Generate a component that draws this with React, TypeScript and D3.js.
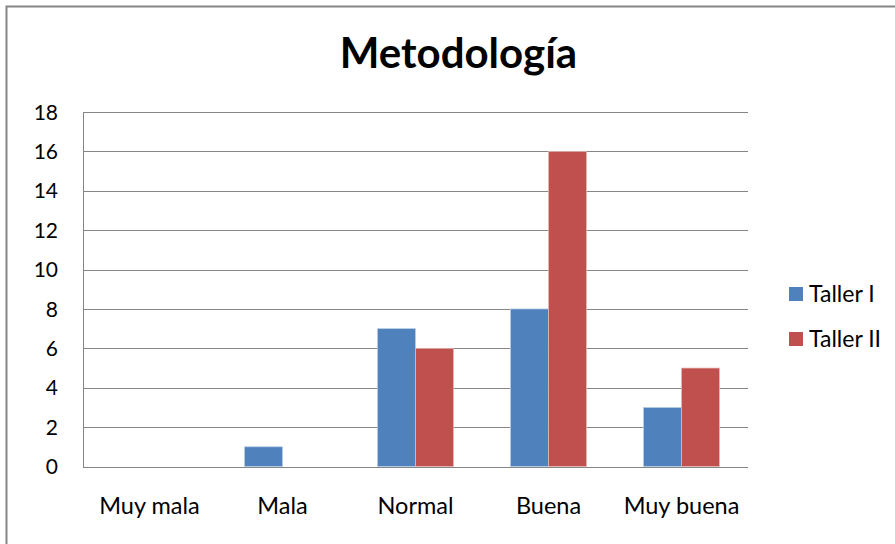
import React from 'react';
import * as d3 from 'd3';

const categories = ['Muy mala', 'Mala', 'Normal', 'Buena', 'Muy buena'];
const series = ['Taller I', 'Taller II'];
const tallerI = [0, 1, 7, 8, 3];
const tallerII = [0, 0, 6, 16, 5];
const yTicks = [0, 2, 4, 6, 8, 10, 12, 14, 16, 18];

const colors = ['#4F81BD', '#C0504D'];
const edges = ['#B9CDE5', '#E6B9B8'];
const gridColor = '#868686';
const font = 'Lato, Carlito, Calibri, sans-serif';

const width = 895;
const height = 544;
const margin = { top: 112, right: 147, bottom: 77.5, left: 83 };

const App: React.FC = () => {
  const values = [tallerI, tallerII];

  const x0 = d3.scaleBand<string>()
    .domain(categories)
    .range([margin.left, width - margin.right])
    .padding(0);

  const x1 = d3.scaleBand<string>()
    .domain(series)
    .range([0, x0.bandwidth()])
    .paddingInner(0)
    .paddingOuter(0.75);

  const y = d3.scaleLinear()
    .domain([0, 18])
    .range([height - margin.bottom, margin.top]);

  const left = margin.left;
  const right = width - margin.right;

  return (
    <div style={{ position: 'absolute', left: 0, top: 0 }}>
      <svg width={width} height={height} style={{ display: 'block', background: '#fff' }}>
        {/* chart frame, cut off by the picture on the right and bottom */}
        <rect x={6.5} y={6.5} width={width + 20} height={height + 20}
          fill="none" stroke={gridColor} strokeWidth={2} />

        <text x={458.5} y={68} textAnchor="middle" fontFamily={font}
          fontWeight="bold" fontSize={42} fill="#000">
          Metodología
        </text>

        {/* gridlines */}
        {yTicks.map(t => (
          <line key={t} x1={left} x2={right} y1={Math.round(y(t)) + 0.5} y2={Math.round(y(t)) + 0.5}
            stroke={gridColor} strokeWidth={1} />
        ))}
        <line x1={left + 0.5} x2={left + 0.5} y1={y(18)} y2={y(0) + 1}
          stroke={gridColor} strokeWidth={1} />

        {/* y tick labels */}
        {yTicks.map(t => (
          <text key={t} x={58} y={y(t)} dy="0.36em" textAnchor="end"
            fontFamily={font} fontSize={21} fill="#000">
            {t}
          </text>
        ))}

        {/* bars */}
        {categories.map((c, i) => (
          <g key={c} transform={`translate(${x0(c)},0)`}>
            {series.map((s, j) => {
              const v = values[j][i];
              if (v <= 0) return null;
              return (
                <rect key={s}
                  x={x1(s)!}
                  y={y(v)}
                  width={x1.bandwidth()}
                  height={y(0) - y(v)}
                  fill={colors[j]}
                  stroke={edges[j]}
                  strokeWidth={0.75} />
              );
            })}
          </g>
        ))}

        {/* category labels */}
        {categories.map(c => (
          <text key={c} x={x0(c)! + x0.bandwidth() / 2} y={514} textAnchor="middle"
            fontFamily={font} fontSize={23.5} fill="#000">
            {c}
          </text>
        ))}

        {/* legend */}
        {series.map((s, j) => (
          <g key={s} transform={`translate(789,${287 + j * 45})`}>
            <rect x={0} y={0} width={14} height={14} fill={colors[j]} />
            <text x={20} y={14.5} fontFamily={font} fontSize={23} fill="#000">{s}</text>
          </g>
        ))}
      </svg>
    </div>
  );
};

export default App;
